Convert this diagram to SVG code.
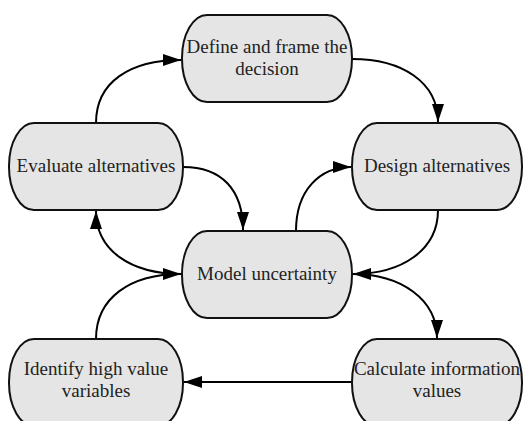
<svg xmlns="http://www.w3.org/2000/svg" width="525" height="421" viewBox="0 0 525 421">
<style>
.node rect{fill:#e5e5e5;stroke:#111;stroke-width:2}
.node text{font-family:"Liberation Serif","Times New Roman",serif;font-size:19px;fill:#222;text-anchor:middle}
.edge{fill:none;stroke:#000;stroke-width:2;marker-end:url(#arr)}
</style>
<defs>
<marker id="arr" markerUnits="userSpaceOnUse" markerWidth="20" markerHeight="14" refX="18" refY="6" orient="auto">
<path d="M0,0 L18,6 L0,12 z" fill="#000"/>
</marker>
</defs>
<rect width="525" height="421" fill="#fff"/>
<g id="connectors">
<path class="edge" d="M96 123 C96 82 130 60 181 60"/>
<path class="edge" d="M352 59 C402 59 438 82 438 122"/>
<path class="edge" d="M183 167 C222 167 243 190 243 230"/>
<path class="edge" d="M296 231 C296 190 320 167 351 167"/>
<path class="edge" d="M438 210 C438 250 402 274 353 274"/>
<path class="edge" d="M352 274 C402 274 437 300 437 338"/>
<path class="edge" d="M182 274 C130 274 96 250 96 211"/>
<path class="edge" d="M96 339 C96 298 130 274 181 274"/>
<path class="edge" d="M352 382 L184 382"/>
</g>
<g id="define" class="node">
<rect x="182" y="15" width="170" height="87" rx="25" ry="43"/>
<text x="267" y="53">Define and frame the</text>
<text x="267" y="75">decision</text>
</g>
<g id="evaluate" class="node">
<rect x="9" y="123" width="174" height="87" rx="25" ry="43"/>
<text x="96" y="172">Evaluate alternatives</text>
</g>
<g id="design" class="node">
<rect x="352" y="123" width="170" height="87" rx="25" ry="43"/>
<text x="437" y="172">Design alternatives</text>
</g>
<g id="model" class="node">
<rect x="182" y="231" width="170" height="87" rx="25" ry="43"/>
<text x="267" y="280">Model uncertainty</text>
</g>
<g id="identify" class="node">
<rect x="9" y="339" width="174" height="87" rx="25" ry="43"/>
<text x="96" y="375">Identify high value</text>
<text x="96" y="397">variables</text>
</g>
<g id="calculate" class="node">
<rect x="352" y="339" width="170" height="87" rx="25" ry="43"/>
<text x="437" y="375">Calculate information</text>
<text x="437" y="397">values</text>
</g>
</svg>
